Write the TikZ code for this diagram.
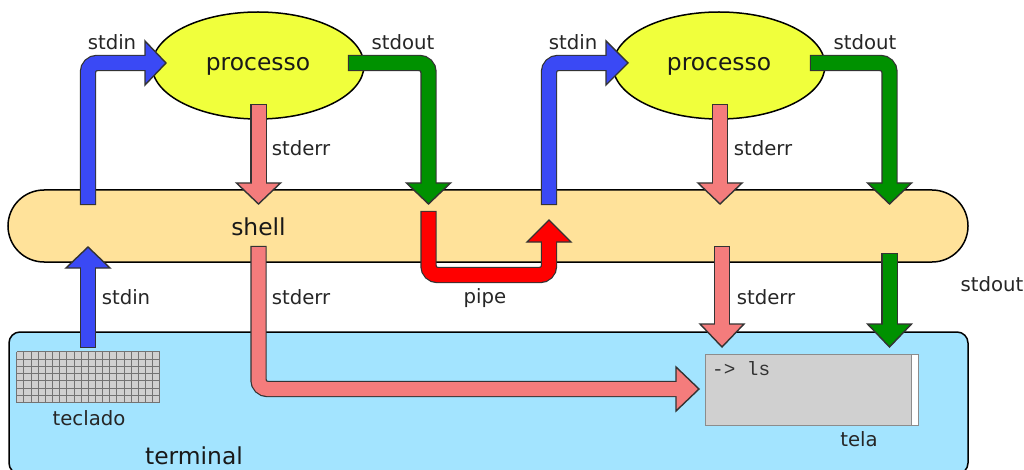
\documentclass[tikz,border=0pt]{standalone}
\usepackage{fontspec}
\setmainfont{DejaVu Sans}
\setmonofont{Liberation Mono}
\usetikzlibrary{calc,shapes.geometric}
\definecolor{stdinblue}{HTML}{3A49F5}
\definecolor{stdoutgreen}{HTML}{009100}
\definecolor{stderrpink}{HTML}{F47C7C}
\definecolor{pipered}{HTML}{FF0000}
\definecolor{shellfill}{HTML}{FFE29A}
\definecolor{termfill}{HTML}{A3E4FF}
\definecolor{procfill}{HTML}{F0FF3C}
\definecolor{screenfill}{HTML}{D0D0D0}
\tikzset{
  small label/.style={text=black!85,font=\fontsize{19.7}{22}\selectfont,inner sep=0pt},
  big label/.style={text=black!90,font=\fontsize{23.4}{26}\selectfont,inner sep=0pt},
  proc/.style={draw,line width=1.5pt,fill=procfill,ellipse,minimum width=212pt,minimum height=107pt,outer sep=0pt},
}
\begin{document}
\begin{tikzpicture}[x=1pt,y=-1pt]
            \def\pipewidth{14pt}
            \newcommand\flowpipe[4]{% {<colour>}{<path>}{<head base>}{<head tip>}
                \draw[black!80,line width=\pipewidth+2.4pt,rounded corners=9pt,shorten <=-1.2pt] #2;
                \draw[black!80,line width=1.4pt,fill=#1,line join=miter]
                    ($(#3)!22pt!90:(#4)$) -- (#4) -- ($(#3)!22pt!-90:(#4)$) -- cycle;
                \draw[#1,line width=\pipewidth,rounded corners=9pt,shorten >=-2pt] #2;
            }
            \useasboundingbox (0,0) rectangle (1024,470);

            \node[draw,line width=1.5pt,fill=shellfill,rounded corners=36pt,minimum width=960pt,minimum height=72pt,outer sep=0pt] (shell) at (488,226) {};
            \node[draw,line width=1.5pt,fill=termfill,rounded corners=11pt,minimum width=959pt,minimum height=142pt,outer sep=0pt] (terminal) at (488.5,403) {};
            \node[proc] (procA) at (258,65.5) {};
            \node[proc] (procB) at (719,65.5) {};

            % teclado e tela
            \node[fill=screenfill,minimum width=143pt,minimum height=51pt,inner sep=0pt] (keyboard) at (88.5,377.5) {};
            \foreach \i in {0,...,20}
                \draw[black!55,line width=1pt] ($(keyboard.north west)+(\i*7.15,0)$) -- ($(keyboard.south west)+(\i*7.15,0)$);
            \foreach \j in {0,...,7}
                \draw[black!55,line width=1pt] ($(keyboard.north west)+(0,\j*7.28)$) -- ($(keyboard.north east)+(0,\j*7.28)$);
            \node[draw=black!45,line width=1pt,fill=screenfill,minimum width=213pt,minimum height=71pt,inner sep=0pt,outer sep=0pt] (screen) at (811.5,389.5) {};
            \node[fill=white,minimum width=6pt,minimum height=70pt,inner sep=0pt] (scrollbar) at (914.5,389.5) {};
            \draw[black!45,line width=1pt] (scrollbar.north west) -- (scrollbar.south west);
            \node[anchor=west,inner sep=0pt,font=\ttfamily\fontsize{19.3}{22}\selectfont,text=black!80] (prompt) at (712,369) {-> ls};

            % coordenadas das setas
            \coordinate (inAs) at (88,204);   \coordinate (inAb) at (145,63);   \coordinate (inAt) at (166,63);
            \coordinate (errAs) at (258.5,105); \coordinate (errAb) at (258.5,183); \coordinate (errAt) at (258.5,204);
            \coordinate (outAs) at (349,63);  \coordinate (outAb) at (428.5,183); \coordinate (outAt) at (428.5,204);
            \coordinate (inBs) at (549,204);  \coordinate (inBb) at (606,63);   \coordinate (inBt) at (628,63);
            \coordinate (errBs) at (720,105); \coordinate (errBb) at (720,183); \coordinate (errBt) at (720,204);
            \coordinate (outBs) at (811,63);  \coordinate (outBb) at (889.5,183); \coordinate (outBt) at (889.5,204);
            \coordinate (keyS) at (88,347);   \coordinate (keyB) at (88,268);   \coordinate (keyT) at (88,247);
            \coordinate (errCs) at (258.5,247); \coordinate (errCb) at (676,389); \coordinate (errCt) at (699,389);
            \coordinate (errDs) at (722,247); \coordinate (errDb) at (722,324); \coordinate (errDt) at (722,347);
            \coordinate (outCs) at (889.5,254); \coordinate (outCb) at (889.5,324); \coordinate (outCt) at (889.5,347);
            \coordinate (pipeS) at (428.5,212); \coordinate (pipeM) at (428.5,275); \coordinate (pipeN) at (549,275);
            \coordinate (pipeB) at (549,242); \coordinate (pipeT) at (549,220);

            \flowpipe{stdinblue}{(inAs) |- (inAb)}{inAb}{inAt}
            \flowpipe{stderrpink}{(errAs) -- (errAb)}{errAb}{errAt}
            \flowpipe{stdoutgreen}{(outAs) -| (outAb)}{outAb}{outAt}
            \flowpipe{stdinblue}{(inBs) |- (inBb)}{inBb}{inBt}
            \flowpipe{stderrpink}{(errBs) -- (errBb)}{errBb}{errBt}
            \flowpipe{stdoutgreen}{(outBs) -| (outBb)}{outBb}{outBt}
            \flowpipe{stdinblue}{(keyS) -- (keyB)}{keyB}{keyT}
            \flowpipe{stderrpink}{(errCs) |- (errCb)}{errCb}{errCt}
            \flowpipe{stderrpink}{(errDs) -- (errDb)}{errDb}{errDt}
            \flowpipe{stdoutgreen}{(outCs) -- (outCb)}{outCb}{outCt}
            \flowpipe{pipered}{(pipeS) -- (pipeM) -- (pipeN) -- (pipeB)}{pipeB}{pipeT}

            \node[big label,anchor=base] (procAlabel) at (258,71) {processo};
            \node[big label,anchor=base] (procBlabel) at (719,71) {processo};
            \node[big label] (shelllabel) at (258.5,227) {shell};
            \node[big label] (termlabel) at (194,455.5) {terminal};
            \node[small label] (inAlabel) at (112,42) {stdin};
            \node[small label] (outAlabel) at (403,42) {stdout};
            \node[small label] (inBlabel) at (573,42) {stdin};
            \node[small label] (outBlabel) at (865,42) {stdout};
            \node[small label] (errAlabel) at (301,148) {stderr};
            \node[small label] (errBlabel) at (763,148) {stderr};
            \node[small label] (keylabel) at (126,297) {stdin};
            \node[small label] (errClabel) at (301,297) {stderr};
            \node[small label] (pipelabel) at (485,298) {pipe};
            \node[small label] (errDlabel) at (766,297) {stderr};
            \node[small label] (outClabel) at (992,284) {stdout};
            \node[small label] (keyboardlabel) at (89,418) {teclado};
            \node[small label] (screenlabel) at (859,439) {tela};
\end{tikzpicture}
\end{document}
